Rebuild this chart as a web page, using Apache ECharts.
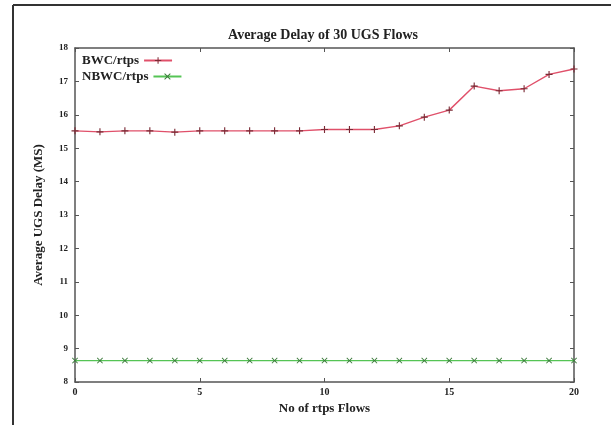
<!DOCTYPE html>
<html><head><meta charset="utf-8">
<script src="https://cdn.jsdelivr.net/npm/echarts@6/dist/echarts.min.js"></script>
<style>html,body{margin:0;padding:0;background:#fff}#c{width:611px;height:425px}</style>
</head><body><div id="c"></div>
<script>
var xValues = [0,1,2,3,4,5,6,7,8,9,10,11,12,13,14,15,16,17,18,19,20];
var bwc = [15.52,15.49,15.52,15.52,15.48,15.52,15.52,15.52,15.52,15.52,15.56,15.56,15.56,15.67,15.93,16.14,16.86,16.72,16.78,17.21,17.37];
var nbwc = [8.64,8.64,8.64,8.64,8.64,8.64,8.64,8.64,8.64,8.64,8.64,8.64,8.64,8.64,8.64,8.64,8.64,8.64,8.64,8.64,8.64];
var seriesNames = ['BWC/rtps','NBWC/rtps'];
var titleText = 'Average Delay of 30 UGS Flows';
var xName = 'No of rtps Flows';
var yName = 'Average UGS Delay (MS)';

var font = 'Liberation Serif';
function pairs(arr){ return xValues.map(function(x,i){ return [x, arr[i]]; }); }
var plusSym = 'path://M4.2,0H5.8V10H4.2ZM0,4.2H10V5.8H0Z';
var crossSym = 'path://M1,0L5,3.9L9,0L10,1L6.1,5L10,9L9,10L5,6.1L1,10L0,9L3.9,5L0,1Z';
var chart = echarts.init(document.getElementById('c'), null, {renderer:'canvas'});
var axisCommon = {
  type:'value',
  axisLine:{show:true, onZero:false, lineStyle:{color:'#555', width:1.5}},
  axisTick:{show:true, inside:true, length:4, lineStyle:{color:'#555'}},
  splitLine:{show:false}
};
var legendText = {fontFamily:font, fontWeight:'bold', fontSize:13, color:'#222'};
chart.setOption({
  animation:false,
  backgroundColor:'#fff',
  title:{text:titleText, left:318, textAlign:'center', top:23,
    textStyle:{fontFamily:font, fontWeight:'bold', fontSize:14, color:'#222'}},
  legend:[
    {left:77, top:49, align:'right', itemWidth:28, itemHeight:8, itemGap:0,
      textStyle:legendText, data:[seriesNames[0]]},
    {left:77, top:65, align:'right', itemWidth:28, itemHeight:8, itemGap:0,
      textStyle:legendText, data:[seriesNames[1]]}
  ],
  grid:{left:75, right:37, top:48, bottom:43},
  xAxis:[
    Object.assign({}, axisCommon, {min:0, max:20, interval:5, position:'bottom',
      name:xName, nameLocation:'middle', nameGap:20,
      nameTextStyle:{fontFamily:font, fontWeight:'bold', fontSize:13, color:'#222'},
      axisLabel:{fontFamily:font, fontWeight:'bold', fontSize:10, color:'#222', margin:5}}),
    Object.assign({}, axisCommon, {min:0, max:20, interval:5, position:'top',
      axisLabel:{show:false}})
  ],
  yAxis:[
    Object.assign({}, axisCommon, {min:8, max:18, interval:1, position:'left',
      name:yName, nameLocation:'middle', nameGap:30, nameRotate:90,
      nameTextStyle:{fontFamily:font, fontWeight:'bold', fontSize:13, color:'#222'},
      axisLabel:{fontFamily:font, fontWeight:'bold', fontSize:9, color:'#222', margin:7}}),
    Object.assign({}, axisCommon, {min:8, max:18, interval:1, position:'right',
      axisLabel:{show:false}})
  ],
  graphic:[
    {type:'line', shape:{x1:13, y1:5, x2:611, y2:5}, style:{stroke:'#333', lineWidth:2}},
    {type:'line', shape:{x1:13, y1:5, x2:13, y2:425}, style:{stroke:'#333', lineWidth:2}}
  ],
  series:[
    {name:seriesNames[0], type:'line', data:pairs(bwc), symbol:plusSym, symbolSize:7,
      lineStyle:{color:'#e0506a', width:1.4}, itemStyle:{color:'#7a2a35'}},
    {name:seriesNames[1], type:'line', data:pairs(nbwc), symbol:crossSym, symbolSize:6,
      lineStyle:{color:'#55c455', width:1.4}, itemStyle:{color:'#3a7a3a'}}
  ]
});
</script></body></html>
